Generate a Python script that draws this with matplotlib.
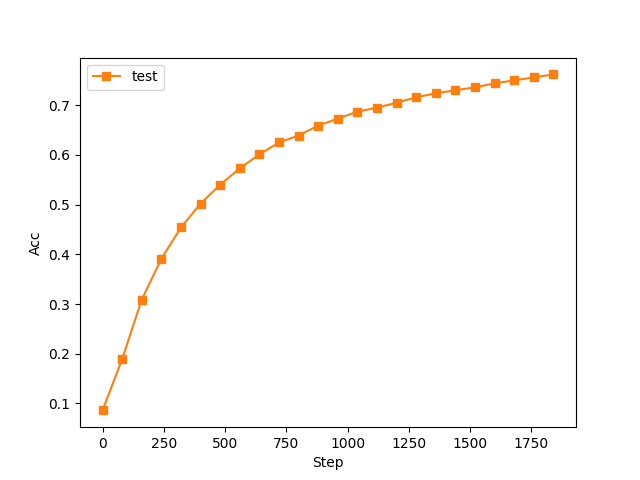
import matplotlib
matplotlib.use("Agg")
import matplotlib.pyplot as plt

# Données
steps = [0, 80, 160, 240, 320, 400, 480, 560, 640, 720, 800, 880,
         960, 1040, 1120, 1200, 1280, 1360, 1440, 1520, 1600, 1680, 1760, 1840]
acc_test = [0.086, 0.189, 0.309, 0.391, 0.454, 0.502, 0.540, 0.573, 0.601, 0.625,
            0.639, 0.659, 0.673, 0.687, 0.695, 0.705, 0.716, 0.724, 0.730, 0.736,
            0.744, 0.750, 0.756, 0.762]

plt.figure(figsize=(6.4, 4.8), dpi=100)
plt.plot(steps, acc_test, color="C1", marker="s", label="test")
plt.xlabel("Step")
plt.ylabel("Acc")
plt.legend(loc="upper left")
plt.savefig("out.png")
